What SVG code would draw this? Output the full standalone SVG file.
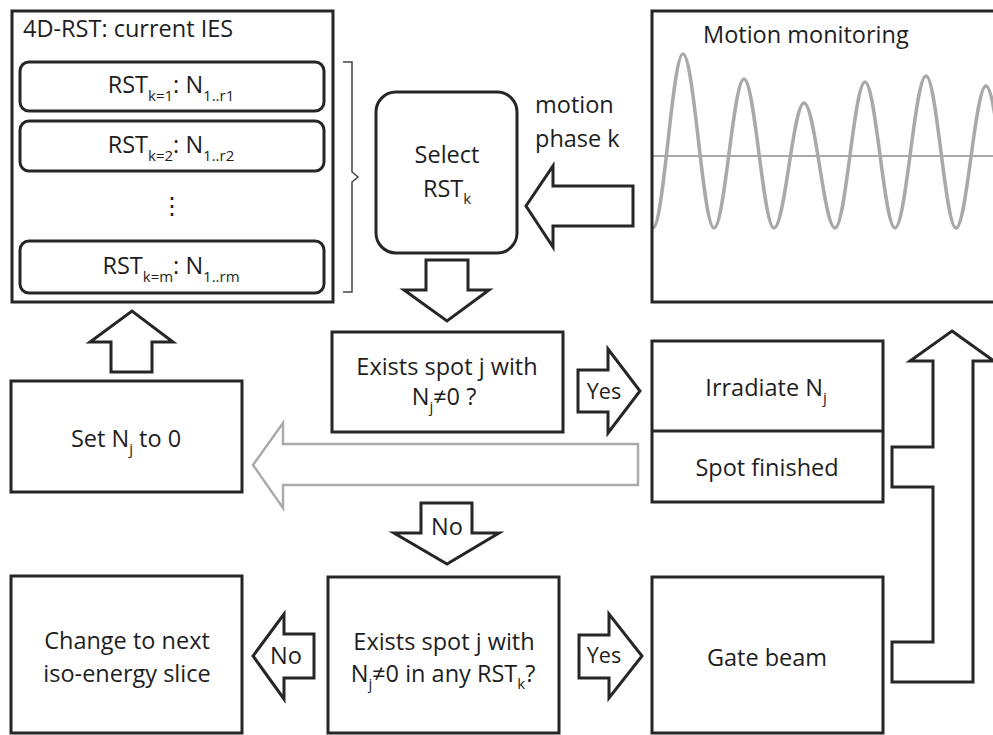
<svg xmlns="http://www.w3.org/2000/svg" width="993" height="735" viewBox="0 0 993 735">
<style>
  .box { fill: #fff; stroke: #262626; stroke-width: 3; }
  .arr { fill: #fff; stroke: #262626; stroke-width: 3; stroke-linejoin: miter; }
  .garr { fill: #fff; stroke: #ababab; stroke-width: 2.5; }
  text { font-family: "Open Sans", "Liberation Sans", sans-serif; fill: #1e1e1e; font-size: 23.5px; }
  .c { text-anchor: middle; }
  .sub { font-size: 15px; }
  .lab { font-size: 21.5px; }
</style>
<defs>
  <clipPath id="mclip"><rect x="652" y="11" width="345" height="291"/></clipPath>
</defs>

<g id="rst4d">
  <rect class="box" x="12" y="11" width="321" height="291"/>
  <text x="23" y="37" font-size="21.5">4D-RST: current IES</text>
  <rect class="box" x="20" y="62" width="304" height="49" rx="9"/>
  <text class="c" x="171" y="93">RST<tspan class="sub" dy="8">k=1</tspan><tspan dy="-8">: N</tspan><tspan class="sub" dy="8">1..r1</tspan></text>
  <rect class="box" x="20" y="121" width="304" height="50" rx="9"/>
  <text class="c" x="171" y="153">RST<tspan class="sub" dy="8">k=2</tspan><tspan dy="-8">: N</tspan><tspan class="sub" dy="8">1..r2</tspan></text>
  <text class="c" x="172" y="214" font-family="DejaVu Sans, sans-serif" font-size="20">⋮</text>
  <rect class="box" x="20" y="241" width="304" height="52" rx="9"/>
  <text class="c" x="171" y="274">RST<tspan class="sub" dy="8">k=m</tspan><tspan dy="-8">: N</tspan><tspan class="sub" dy="8">1..rm</tspan></text>
  <path d="M343,62 L352,62 L352,172 L358,177 L352,182 L352,292 L343,292" fill="none" stroke="#444" stroke-width="1.5"/>
</g>

<g id="select">
  <rect class="box" x="376" y="92" width="141" height="161" rx="20"/>
  <text class="c" x="447" y="163">Select</text>
  <text class="c" x="447" y="197">RST<tspan class="sub" dy="7">k</tspan></text>
</g>

<g id="motion-label">
  <text x="535" y="113">motion</text>
  <text x="535" y="147">phase k</text>
</g>

<g id="motion">
  <g clip-path="url(#mclip)">
    <line x1="652" y1="156" x2="993" y2="156" stroke="#aaa" stroke-width="2"/>
    <path d="M640,160 C645,190 649,228 653,228 C663.8,228 672.2,54 683,54 C694.2,54 702.8,228 714,228 C724.8,228 733.2,79 744,79 C754.8,79 763.2,228 774,228 C784.8,228 793.2,103 804,103 C815.2,103 823.8,228 835,228 C845.8,228 854.2,82 865,82 C875.8,82 884.2,228 895,228 C906.2,228 914.8,76 926,76 C936.8,76 945.2,228 956,228 C966.8,228 975.2,86 986,86 C996.8,86 1005.2,228 1016,228" fill="none" stroke="#a9a9a9" stroke-width="3.5"/>
  </g>
  <rect x="652" y="11" width="345" height="291" fill="none" stroke="#262626" stroke-width="3"/>
  <text x="703" y="43" font-size="22">Motion monitoring</text>
</g>

<g id="exists1">
  <rect class="box" x="332" y="332" width="231" height="100"/>
  <text class="c" x="447" y="375">Exists spot j with</text>
  <text class="c" x="444" y="405">N<tspan class="sub" dy="7">j</tspan><tspan dy="-7">≠0 ?</tspan></text>
</g>

<g id="irradiate">
  <rect class="box" x="652" y="341" width="231" height="161"/>
  <line x1="652" y1="431" x2="883" y2="431" stroke="#262626" stroke-width="3"/>
  <text class="c" x="766" y="396">Irradiate N<tspan class="sub" dy="7">j</tspan></text>
  <text class="c" x="767" y="476">Spot finished</text>
</g>

<g id="setnj">
  <rect class="box" x="11" y="381" width="231" height="111"/>
  <text class="c" x="126" y="447">Set N<tspan class="sub" dy="7">j</tspan><tspan dy="-7"> to 0</tspan></text>
</g>

<g id="change">
  <rect class="box" x="11" y="576" width="231" height="157"/>
  <text class="c" x="127" y="649">Change to next</text>
  <text class="c" x="127" y="682">iso-energy slice</text>
</g>

<g id="exists2">
  <rect class="box" x="328" y="577" width="231" height="156"/>
  <text class="c" x="444" y="650">Exists spot j with</text>
  <text class="c" x="443" y="682">N<tspan class="sub" dy="7">j</tspan><tspan dy="-7">≠0 in any RST</tspan><tspan class="sub" dy="7">k</tspan><tspan dy="-7">?</tspan></text>
</g>

<g id="gate">
  <rect class="box" x="652" y="577" width="231" height="156"/>
  <text class="c" x="767" y="666">Gate beam</text>
</g>

<g id="connectors">
  <polygon class="arr" points="633,186 553,186 553,166 526,206 553,247 553,226 633,226"/>
  <polygon class="arr" points="426,260 468,260 468,290 489,290 447,321 404,290 426,290"/>
  <polygon class="arr" points="111,372 111,342 90,342 132,311 173,342 152,342 152,372"/>
  <polygon class="garr" points="638,444 283,444 283,423 253,465 283,508 283,485 638,485"/>
  <polygon class="arr" points="578,370 608,370 608,349 640,391 608,433 608,412 578,412"/>
  <text class="c lab" x="604" y="399">Yes</text>
  <polygon class="arr" points="421,503 472,503 472,533 499,533 447,564 394,533 421,533"/>
  <text class="c" x="447" y="535" font-size="22.5">No</text>
  <polygon class="arr" points="314,634 284,634 284,614 253,656 284,699 284,678 314,678"/>
  <text class="c" x="286" y="664" font-size="22.5">No</text>
  <polygon class="arr" points="579,635 609,635 609,614 642,656 609,698 609,678 579,678"/>
  <text class="c lab" x="604" y="663">Yes</text>
  <path class="arr" d="M952,331 L994,361 L973,361 L973,682 L892,682 L892,642 L933,642 L933,487 L892,487 L892,447 L933,447 L933,361 L910,361 Z"/>
</g>
</svg>
